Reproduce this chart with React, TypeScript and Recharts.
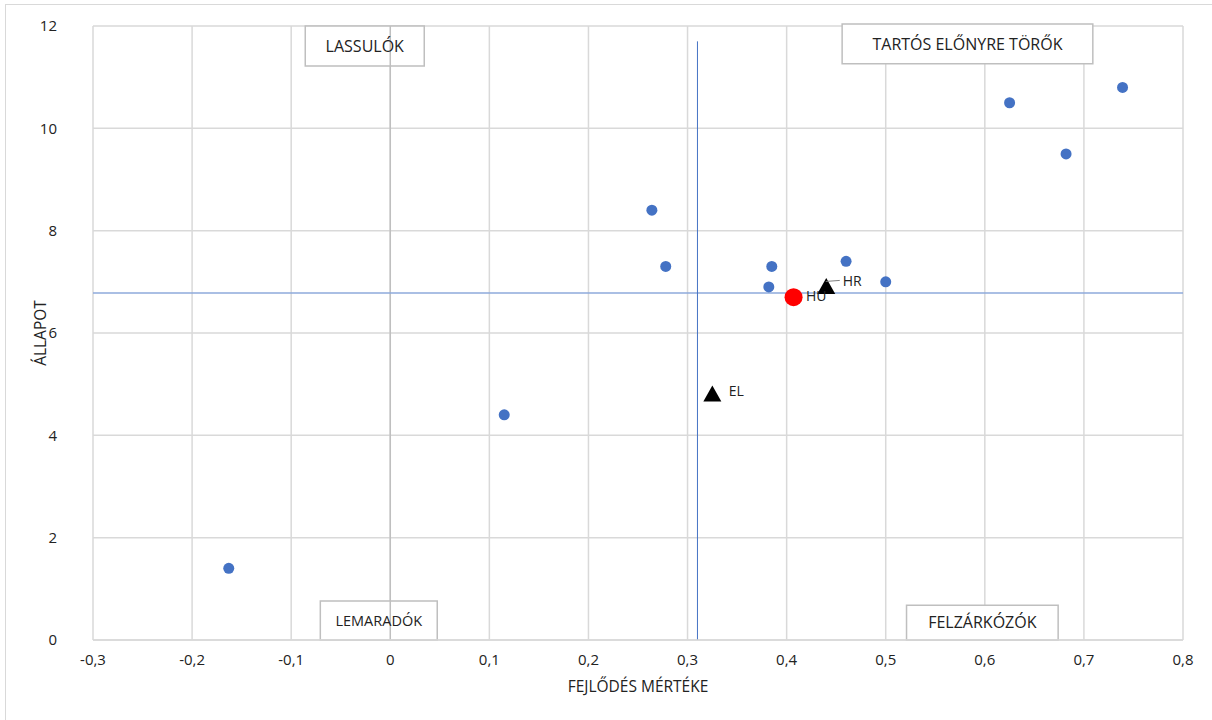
import React from 'react';
import {
  ScatterChart,
  Scatter,
  XAxis,
  YAxis,
  CartesianGrid,
  ReferenceLine,
  ReferenceArea,
  LabelList,
} from 'recharts';

// countries without a label
const others = [
  { x: -0.163, y: 1.4 },
  { x: 0.115, y: 4.4 },
  { x: 0.264, y: 8.4 },
  { x: 0.278, y: 7.3 },
  { x: 0.382, y: 6.9 },
  { x: 0.385, y: 7.3 },
  { x: 0.46, y: 7.4 },
  { x: 0.5, y: 7.0 },
  { x: 0.625, y: 10.5 },
  { x: 0.682, y: 9.5 },
  { x: 0.739, y: 10.8 },
];

const hungary = [{ x: 0.407, y: 6.7, name: 'HU' }];

const peers = [
  { x: 0.44, y: 6.9, name: 'HR' },
  { x: 0.325, y: 4.8, name: 'EL' },
];

const xTicks = [-0.3, -0.2, -0.1, 0, 0.1, 0.2, 0.3, 0.4, 0.5, 0.6, 0.7, 0.8];
const yTicks = [0, 2, 4, 6, 8, 10, 12];

const avgState = 6.78;
const avgProgress = 0.31;

const FONT = "'Open Sans', 'Liberation Sans', sans-serif";

const fmt = (v: number) => (v === 0 ? '0' : v.toFixed(1).replace('.', ','));

const Dot = (props: any) => <circle cx={props.cx} cy={props.cy} r={5.5} fill="#4472C4" />;
const BigDot = (props: any) => <circle cx={props.cx} cy={props.cy} r={9} fill="#FF0000" />;
const Tri = (props: any) => {
  const { cx, cy } = props;
  return <polygon points={`${cx},${cy - 9} ${cx - 9},${cy + 7} ${cx + 9},${cy + 7}`} fill="#000" />;
};

const boxLabel = (text: string) => ({
  value: text,
  position: 'center' as const,
  fill: '#222',
  fontSize: 16,
  fontFamily: FONT,
});

const PeerLabel = (props: any) => {
  const { x, y, value } = props;
  if (value === 'HR') {
    return (
      <g>
        <line x1={x + 4} y1={y - 1} x2={x + 18} y2={y - 2} stroke="#7f7f7f" strokeWidth={1} />
        <text x={x + 21} y={y + 4} fontSize={14} fontFamily={FONT} fill="#222">
          {value}
        </text>
      </g>
    );
  }
  return (
    <text x={x + 21} y={y + 6} fontSize={14} fontFamily={FONT} fill="#222">
      {value}
    </text>
  );
};

const HuLabel = (props: any) => {
  const { x, y, value } = props;
  return (
    <text x={x + 17} y={y + 8} fontSize={14} fontFamily={FONT} fill="#222">
      {value}
    </text>
  );
};

export default function App() {
  return (
    <div style={{ position: 'absolute', left: 0, top: 0, width: 1212, height: 720, background: '#fff', overflow: 'hidden' }}>
      <div
        style={{
          position: 'absolute',
          left: 5,
          top: 4,
          width: 1220,
          height: 730,
          border: '1px solid #d9d9d9',
        }}
      />
      <ScatterChart
        width={1212}
        height={720}
        margin={{ top: 26, right: 29, bottom: 0, left: 0 }}
        style={{ position: 'absolute', left: 0, top: 0 }}
      >
        <CartesianGrid stroke="#d9d9d9" strokeWidth={1.5} />
        <XAxis
          type="number"
          dataKey="x"
          domain={[-0.3, 0.8]}
          ticks={xTicks}
          tickFormatter={fmt}
          axisLine={{ stroke: '#d9d9d9', strokeWidth: 1.5 }}
          tickLine={false}
          tickSize={0}
          tickMargin={14}
          tick={{ fill: '#222', fontSize: 15, fontFamily: FONT }}
          height={80}
          label={{
            value: 'FEJLŐDÉS MÉRTÉKE',
            position: 'insideTop',
            offset: 41,
            fill: '#222',
            fontSize: 15.5,
            fontFamily: FONT,
          }}
        />
        <YAxis
          type="number"
          dataKey="y"
          domain={[0, 12]}
          ticks={yTicks}
          axisLine={false}
          tickLine={false}
          tickSize={0}
          tickMargin={36}
          width={93}
          tick={{ fill: '#222', fontSize: 15, fontFamily: FONT }}
          label={{
            value: 'ÁLLAPOT',
            angle: -90,
            position: 'insideLeft',
            offset: 40,
            fill: '#222',
            fontSize: 15.5,
            fontFamily: FONT,
            style: { textAnchor: 'middle' },
          }}
        />
        <ReferenceLine x={0} stroke="#bfbfbf" strokeWidth={1.5} />
        <ReferenceLine y={avgState} stroke="#8eaadb" strokeWidth={1.5} />
        <ReferenceLine
          segment={[
            { x: avgProgress, y: 0 },
            { x: avgProgress, y: 11.7 },
          ]}
          stroke="#4472C4"
          strokeWidth={1}
        />
        <ReferenceArea x1={-0.0858} x2={0.0343} y1={11.22} y2={12} fill="#fff" fillOpacity={1} stroke="#bfbfbf" strokeWidth={1.5} label={boxLabel('LASSULÓK')} />
        <ReferenceArea x1={0.456} x2={0.709} y1={11.26} y2={12.04} ifOverflow="visible" fill="#fff" fillOpacity={1} stroke="#bfbfbf" strokeWidth={1.5} label={boxLabel('TARTÓS ELŐNYRE TÖRŐK')} />
        <ReferenceArea x1={-0.0706} x2={0.0474} y1={0} y2={0.76} fill="#fff" fillOpacity={1} stroke="#bfbfbf" strokeWidth={1.5} label={{ ...boxLabel('LEMARADÓK'), fontSize: 14.5 }} />
        <ReferenceArea x1={0.521} x2={0.674} y1={0} y2={0.68} fill="#fff" fillOpacity={1} stroke="#bfbfbf" strokeWidth={1.5} label={boxLabel('FELZÁRKÓZÓK')} />
        <Scatter data={others} shape={Dot} isAnimationActive={false} />
        <Scatter data={peers} shape={Tri} isAnimationActive={false}>
          <LabelList dataKey="name" content={PeerLabel} />
        </Scatter>
        <Scatter data={hungary} shape={BigDot} isAnimationActive={false}>
          <LabelList dataKey="name" content={HuLabel} />
        </Scatter>
      </ScatterChart>
    </div>
  );
}
